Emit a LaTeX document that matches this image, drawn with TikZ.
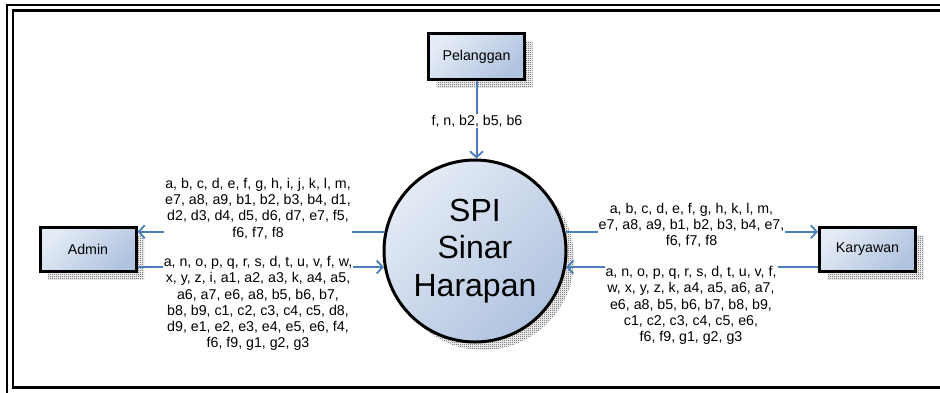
\documentclass[tikz,border=0pt]{standalone}
\usepackage{fontspec}
\setmainfont{Liberation Sans}
\usetikzlibrary{arrows.meta,shadows,patterns}

\definecolor{boxlight}{RGB}{228,235,246}
\definecolor{boxdark}{RGB}{176,195,223}
\definecolor{flowblue}{RGB}{74,126,187}

% fine half-tone stipple used for the shadows
\pgfdeclarepatternformonly{stipple}{\pgfpointorigin}{\pgfpoint{2pt}{2pt}}{\pgfpoint{2pt}{2pt}}{%
  \pgfpathrectangle{\pgfpointorigin}{\pgfpoint{1pt}{1pt}}%
  \pgfpathrectangle{\pgfpoint{1pt}{1pt}}{\pgfpoint{1pt}{1pt}}%
  \pgfusepath{fill}}

\tikzset{
  softshadow/.style={general shadow={shadow xshift=8pt, shadow yshift=-8pt,
      pattern=stipple, pattern color=black!75}},
  entity/.style={rectangle, draw=black, line width=3pt,
      minimum width=96pt, minimum height=44pt, inner sep=0pt,
      top color=boxlight, bottom color=boxdark, shading angle=45,
      font=\fontsize{14.2}{16}\selectfont, softshadow},
  process/.style={circle, draw=black, line width=3pt, minimum size=182pt,
      inner sep=0pt, top color=boxlight, bottom color=boxdark, shading angle=45,
      align=center, font=\fontsize{32}{37.5}\selectfont, softshadow},
  flow/.style={draw=flowblue, line width=2pt,
      -{Straight Barb[length=6pt,width=13pt,line width=1.8pt]}},
  flowlabel/.style={fill=white, align=center, inner xsep=1pt, inner ysep=1pt,
      font=\fontsize{14.2}{16.2}\selectfont},
}

\begin{document}
\begin{tikzpicture}[x=1pt,y=-1pt]
  \useasboundingbox (0,0) rectangle (940,392);

  % double frame round the whole diagram
  \begin{scope}
    \clip (0,0) rectangle (940,392);
    \draw[line width=2pt] (6.7,5.3) rectangle (960,400);
    \draw[line width=2.7pt] (13,10.7) rectangle (960,387.3);
  \end{scope}

  % external entities and the process
  \node[entity, minimum height=46pt] (pel) at (476.5,56.5) {Pelanggan};
  \node[entity] (adm) at (88,249.5) {Admin};
  \node[entity] (kar) at (867.5,249.5) {Karyawan};
  \node[process] (spi) at (475,251) {SPI\\Sinar\\Harapan};

  % data flows
  \draw[flow] (pel.south) -- (pel.south |- spi.north);
  \draw[flow] (spi.168) -- (adm.east |- spi.168);
  \draw[flow] (adm.east |- spi.190) -- (spi.190);
  \draw[flow] (spi.12) -- (kar.west |- spi.12);
  \draw[flow] (kar.west |- spi.350) -- (spi.350);

  % flow labels
  \node[flowlabel] (lpel) at (477,121) {f, n, b2, b5, b6};
  \node[flowlabel] (ladmout) at (258,208.5)
    {a, b, c, d, e, f, g, h, i, j, k, l, m,\\
     e7, a8, a9, b1, b2, b3, b4, d1,\\
     d2, d3, d4, d5, d6, d7, e7, f5,\\
     f6, f7, f8};
  \node[flowlabel] (ladmin) at (258,303.5)
    {a, n, o, p, q, r, s, d, t, u, v, f, w,\\
     x, y, z, i, a1, a2, a3, k, a4, a5,\\
     a6, a7, e6, a8, b5, b6, b7,\\
     b8, b9, c1, c2, c3, c4, c5, d8,\\
     d9, e1, e2, e3, e4, e5, e6, f4,\\
     f6, f9, g1, g2, g3};
  \node[flowlabel] (lkarout) at (691.5,225)
    {a, b, c, d, e, f, g, h, k, l, m,\\
     e7, a8, a9, b1, b2, b3, b4, e7,\\
     f6, f7, f8};
  \node[flowlabel] (lkarin) at (691,305.5)
    {a, n, o, p, q, r, s, d, t, u, v, f,\\
     w, x, y, z, k, a4, a5, a6, a7,\\
     e6, a8, b5, b6, b7, b8, b9,\\
     c1, c2, c3, c4, c5, e6,\\
     f6, f9, g1, g2, g3};
\end{tikzpicture}
\end{document}
